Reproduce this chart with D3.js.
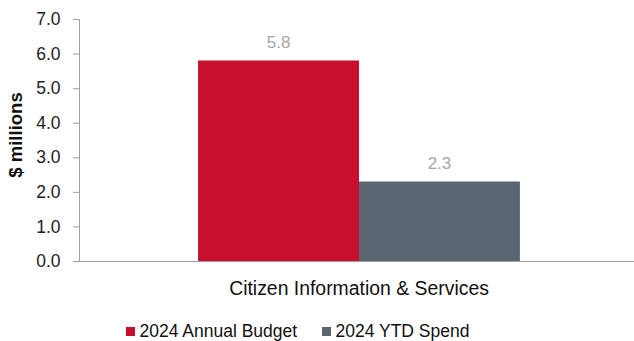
<!DOCTYPE html>
<html><head><meta charset="utf-8">
<script src="https://cdn.jsdelivr.net/npm/d3@7"></script>
<style>body{margin:0;background:#fff}svg{display:block;font-family:"Liberation Sans",Arial,sans-serif}</style>
</head><body><svg id="c" width="634" height="341"></svg>
<script>
const categories = ["Citizen Information & Services"];
const seriesNames = ["2024 Annual Budget", "2024 YTD Spend"];
const budget = [5.8];
const ytdSpend = [2.3];
const yTicks = [0,1,2,3,4,5,6,7];
const colors = ["#c8102e", "#5b6770"];

(function(){
const svg = d3.select("#c");
const mLeft = 79, mRight = 639, mTop = 19, mBottom = 261;
const y = d3.scaleLinear().domain([0,7]).range([mBottom, mTop]);
const x0 = d3.scaleBand().domain(categories).range([mLeft, mRight]).paddingInner(0).paddingOuter(0.37);
const x1 = d3.scaleBand().domain(seriesNames).range([0, x0.bandwidth()]).padding(0);

const data = categories.map((c,i)=>({cat:c, vals:[budget[i], ytdSpend[i]]}));

const g = svg.append("g");
data.forEach(d=>{
  d.vals.forEach((v,j)=>{
    const bx = x0(d.cat)+x1(seriesNames[j]);
    g.append("rect").attr("x",bx).attr("y",y(v)).attr("width",x1.bandwidth()).attr("height",y(0)-y(v)).attr("fill",colors[j]);
    g.append("text").attr("x",bx+x1.bandwidth()/2).attr("y",y(v)-12).attr("text-anchor","middle")
      .attr("font-size",17).attr("fill","#a6a6a6").text(v.toFixed(1));
  });
});

const yAxis = d3.axisLeft(y).tickValues(yTicks).tickFormat(d=>d.toFixed(1)).tickSize(6).tickPadding(12.5);
const ya = svg.append("g").attr("transform",`translate(${mLeft},0)`).call(yAxis);
ya.select(".domain").attr("stroke","#a0a0a0");
ya.selectAll(".tick line").attr("stroke","#a0a0a0");
ya.selectAll(".tick text").attr("font-size",17.5).attr("fill","#222").attr("font-family","Liberation Sans, Arial, sans-serif");

const xAxis = d3.axisBottom(x0).tickSize(0).tickPadding(20);
const xa = svg.append("g").attr("transform",`translate(0,${mBottom})`).call(xAxis);
xa.select(".domain").attr("stroke","#a0a0a0").attr("d",`M${mLeft},0.5H634`);
xa.selectAll(".tick text").attr("font-size",19.4).attr("fill","#111").attr("font-family","Liberation Sans, Arial, sans-serif");

svg.append("text").attr("transform",`translate(22,${(mTop+mBottom)/2 - 5}) rotate(-90)`).attr("text-anchor","middle")
  .attr("font-size",18.5).attr("font-weight","bold").attr("fill","#111").text("$ millions");

const legX = [126, 322];
seriesNames.forEach((n,j)=>{
  svg.append("rect").attr("x",legX[j]).attr("y",327).attr("width",9).attr("height",9).attr("fill",colors[j]);
  svg.append("text").attr("x",legX[j]+13.5).attr("y",337).attr("font-size",17.5).attr("fill","#111").text(n);
});
})();
</script></body></html>
